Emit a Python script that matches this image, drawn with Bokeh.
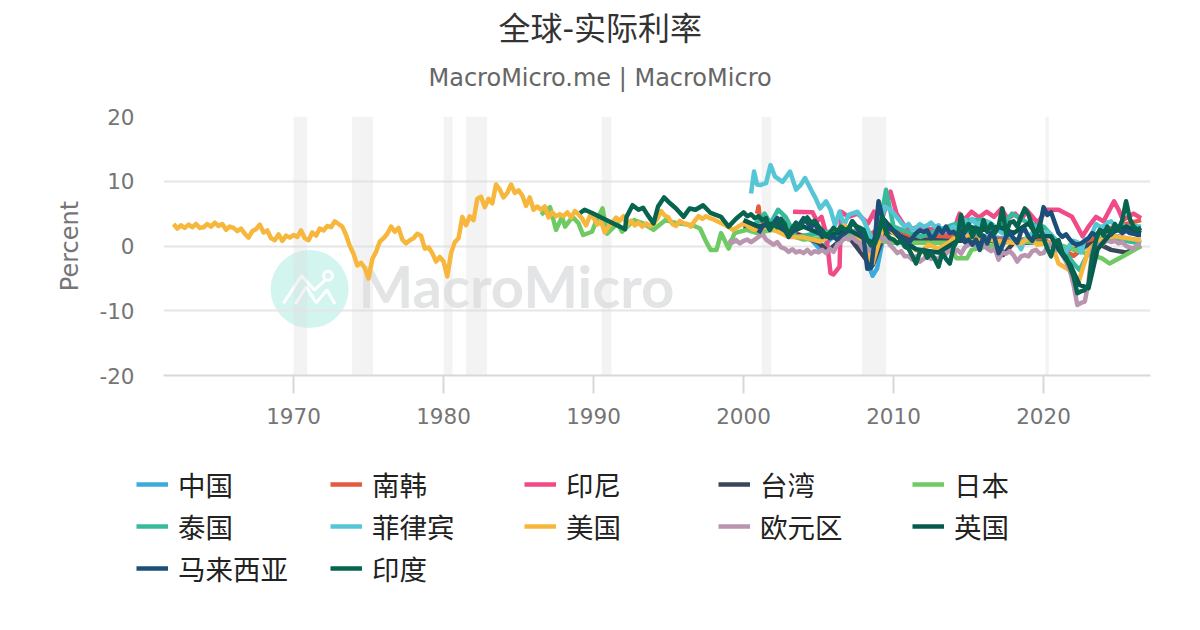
from bokeh.plotting import figure
from bokeh.layouts import column, row
from bokeh.models import Label, Legend, LegendItem, FixedTicker, Range1d, ColumnDataSource, Title
from bokeh.embed import file_html
from bokeh.resources import INLINE
from bokeh.core.properties import value

TITLE = "全球-实际利率"
SUBTITLE = "MacroMicro.me | MacroMicro"
X_TICKS = [1970, 1980, 1990, 2000, 2010, 2020]
Y_TICKS = [-20, -10, 0, 10, 20]
REC_START = [1970.0, 1973.9, 1980.0, 1981.5, 1990.55, 2001.2, 2007.9, 2020.13]
REC_END = [1970.9, 1975.3, 1980.6, 1982.9, 1991.2, 2001.85, 2009.5, 2020.35]


def quarters(start, n):
    return [start + 0.25 * i for i in range(n)]


us_early = [3.4,2.7,3.2,2.8, 3.3,2.9,3.4,2.8, 2.9,3.4,3.0,3.6, 3.1,3.4,2.5,3.0, 2.8,2.3,2.7,1.9, 1.3,2.3,2.6,3.3,
            2.1,2.4,1.2,0.9, 1.8,0.8,1.6,1.3, 1.7,1.4,2.4,1.2, 0.9,2.1,1.6,2.7, 2.4,3.1,2.9,3.8, 3.4,3.0,1.7,0.0,
            -1.2,-3.0,-2.6,-3.4, -5.0,-2.0,-0.9,0.7, 1.2,1.9,3.0,2.2, 2.8,1.0,0.4,0.9, 1.2,1.9,1.6,-0.4, -0.2,-1.1,-2.4,-1.7,
            -2.4,-4.7,-1.1,0.6, 1.2,4.5,3.2,4.6, 4.0,7.3,7.6,6.0, 7.3,6.6,9.5,8.7, 7.5,8.2,9.5,8.2, 8.6,7.8,6.2,7.5,
            5.6,6.1,5.6,6.1, 4.4,5.2,4.6,4.9, 4.6,5.2,4.4,5.4, 4.9,4.2,3.2,4.6, 4.4,3.3,3.8,2.1, 3.0,3.6,4.4,3.9,
            4.6,3.3,3.9,3.2, 3.6,3.0,3.5,3.1, 3.4,4.2,5.4,4.7, 4.4,3.4,3.1,3.9, 3.5,3.4,3.0,3.9, 4.6,4.2,4.6,4.3, 4.1]
us_late_x = [1998.8,1999.3,2000.0,2000.7,2001.6,2003.0,2003.9,2005.1,2005.8,2006.7,2007.3,2008.0,2008.6,2009.4,2010.0,2010.9,2011.8,2012.3,2013.0,2013.6,2014.5,2015.3,2016.3,2017.5,2018.5,2019.0,2019.6,2020.5,2021.0,2021.7,2022.3,2023.0,2023.7,2024.7,2026.5]
us_late_y = [3.2,2.5,3.5,2.5,3.0,1.4,1.4,0.7,1.6,3.2,2.2,0.4,-2.7,3.5,2.0,0.4,-1.1,0.2,-0.4,0.4,2.0,1.2,1.0,0.6,0.4,1.2,0.2,0.6,-2.7,-3.7,-5.8,-0.6,0.9,1.5,0.9]
us_x = quarters(1962.0, len(us_early)) + us_late_x
us_y = us_early + us_late_y

jp_x = [1986.5,1987.1,1987.5,1987.9,1988.1,1988.6,1989.0,1989.3,1989.9,1990.2,1990.6,1990.9,1991.6,1991.9,1992.7,1993.3,1994.0,1994.8,1995.6,1996.6,1997.1,1997.5,1997.8,1998.2,1998.5,1999.0,1999.4,2000.2,2000.9,2002.0,2004.0,2007.0,2010.0,2013.6,2014.2,2014.9,2015.2,2018.0,2021.0,2023.9,2024.4,2025.3,2026.5]
jp_y = [4.8,6.0,2.5,4.5,3.0,4.5,3.5,1.7,2.2,4.0,5.8,1.9,3.5,2.2,4.0,3.5,2.5,4.0,3.5,3.2,2.7,0.7,-0.6,-0.6,2.0,-0.4,2.0,2.5,2.0,2.5,1.0,1.5,0.5,0.5,-1.9,-1.9,-0.6,0.8,0.2,-1.9,-2.7,-1.6,0.0]

cn_x = [2000.0,2001.5,2003.0,2004.5,2005.1,2006.0,2007.0,2008.0,2008.6,2008.9,2009.5,2010.5,2012.0,2014.0,2016.0,2018.0,2020.0,2021.0,2022.0,2023.5,2025.0,2026.5]
cn_y = [3.0,3.2,2.0,1.0,-0.5,1.5,2.0,-1.0,-4.6,-3.5,3.5,2.0,1.5,2.5,1.5,1.0,0.5,-0.5,-1.5,1.0,1.5,0.5]

kr_x = [2000.9,2001.0,2001.1,2002.0,2003.0,2004.0,2005.0,2006.0,2008.0,2009.5,2011.0,2014.0,2017.0,2020.0,2022.0,2024.0,2026.5]
kr_y = [5.0,6.1,4.0,3.0,2.5,1.5,2.0,2.0,1.0,3.5,1.5,1.5,1.0,1.0,-1.5,2.5,4.0]

id_x = [2003.3,2004.6,2004.9,2005.2,2005.5,2005.8,2006.0,2006.4,2006.5,2007.0,2007.6,2008.3,2008.7,2009.0,2009.8,2010.2,2010.9,2011.8,2013.6,2014.1,2014.4,2014.7,2015.2,2015.7,2016.2,2016.7,2017.2,2017.6,2018.1,2018.5,2018.9,2019.6,2020.2,2021.0,2021.9,2022.6,2023.0,2023.5,2024.0,2024.7,2025.0,2025.3,2026.0,2026.5]
id_y = [5.3,5.2,3.8,4.5,2.0,-4.2,-4.4,-3.2,5.3,4.5,5.0,3.5,5.3,2.5,8.4,5.0,2.5,3.0,2.0,3.0,5.0,4.0,5.3,4.4,5.3,4.5,5.8,4.2,5.0,4.0,5.5,3.6,5.6,5.6,4.5,1.5,3.0,4.5,3.8,6.9,5.6,4.0,5.0,4.3]

tw_x = [2000.0,2002.0,2004.0,2005.0,2005.6,2006.3,2007.0,2008.3,2008.6,2009.5,2011.0,2014.0,2017.0,2017.3,2018.0,2020.0,2022.0,2023.5,2024.5,2025.5,2026.5]
tw_y = [3.0,2.5,1.5,0.5,-0.8,0.6,1.5,-2.5,-3.0,2.5,1.0,0.8,0.8,-1.4,0.5,0.5,-0.5,0.5,-0.6,-1.0,0.0]

th_x = [2000.5,2001.0,2001.4,2001.8,2002.3,2002.8,2003.5,2005.1,2006.8,2008.2,2008.9,2009.5,2010.0,2011.8,2013.6,2014.9,2016.0,2017.0,2017.9,2019.0,2020.0,2021.0,2022.0,2022.4,2023.0,2024.0,2026.5]
th_y = [3.0,3.8,5.0,3.5,5.6,4.5,1.4,2.0,2.5,2.0,0.5,8.7,3.0,1.4,3.0,4.0,4.0,2.5,5.0,3.5,3.0,0.5,-2.7,-3.7,-1.0,1.4,0.4]

ph_head_x = [2000.5,2000.7,2000.9,2001.1,2001.5,2001.8,2002.1,2002.6,2003.1,2003.5,2003.8,2004.1,2004.5,2004.8,2005.1,2005.5,2005.8,2006.1,2006.4,2006.7,2007.0,2007.6,2008.0,2008.5,2008.9,2009.4,2009.8,2010.2]
ph_head_y = [8.1,11.5,9.5,9.4,9.7,12.5,10.7,9.9,11.5,8.7,9.4,10.5,8.7,7.4,5.8,6.9,5.6,3.2,5.3,3.2,4.8,5.3,4.0,1.4,0.4,6.1,5.6,4.5]
ph_tail = [3.6,3.0, 3.4,2.5,2.8,3.4, 3.0,3.2,3.6,3.0, 3.2,2.0,2.4,2.6, 3.0,2.4,3.6,4.0, 3.2,4.2,3.4,3.5, 3.0,3.8,3.5,3.0,
           2.4,2.0,1.8,1.6, 1.0,0.5,-0.5,1.0, 1.5,2.0,3.0,2.5, 1.5,2.2,1.8,0.8, 0.5,-0.4,-1.0,0.2, 0.8,0.6,-1.0,1.0,
           1.2,2.0,3.4,3.0, 3.0,3.6,3.8,3.2, 2.8,3.4,2.6,3.0, 3.2,3.0,3.0]
ph_x = ph_head_x + quarters(2010.5, len(ph_tail))
ph_y = ph_head_y + ph_tail

ez_y = [0.9,0.5,0.9,0.4, 0.8,1.0,0.6,1.0, 1.4,1.9,1.0,0.6, 0.2,0.6,-0.2,-0.4, -0.9,-0.5,-1.0,-0.8, -1.1,-0.6,-1.2,-0.8,
        -1.0,-0.6,-1.1,-0.4, -0.9,0.2,0.6,1.4, 1.0,1.4,0.8,0.4, -0.6,-0.2,-0.8,1.2, 1.6,1.0,1.4,0.2, -0.4,-1.1,-0.8,-1.6,
        -1.6,-2.1,-1.6,-2.4, -2.0,-1.4,-2.0,-1.8, -2.1,-1.0,-1.2,-0.6, -1.1,-0.6,-1.2,-0.2, 0.2,0.4,0.0,0.2, 0.4,-0.4,-0.8,-0.4,
        -2.1,-1.0,-1.2,-0.8, -1.4,-2.4,-1.6,-1.4, -1.6,-0.8,-0.6,-1.2, -1.1,-0.2,0.4,-0.6, -0.6,-1.4,-2.4,-3.7,
        -6.0,-9.1,-8.8,-8.6, -5.5,-0.6,0.6,0.0, 0.4,0.9,0.6,0.8, 0.4,0.6,0.0,-0.2, -0.4,0.2,0.2]
ez_x = quarters(1999.0, len(ez_y))

uk_x = [2000.0,2001.0,2002.0,2003.0,2004.0,2005.5,2007.0,2008.6,2009.4,2010.5,2011.5,2013.0,2014.4,2015.0,2016.0,2017.0,2018.0,2019.0,2019.6,2020.5,2021.0,2021.8,2022.4,2023.0,2023.6,2024.5,2025.5,2026.5]
uk_y = [4.0,3.0,3.5,2.0,3.0,1.5,2.5,0.5,4.0,1.0,-0.5,-1.0,1.0,3.0,2.5,3.0,2.0,3.5,1.5,1.5,-0.5,-3.0,-6.0,-6.5,-0.5,2.0,3.0,2.0]

my_y = [2.0,3.0,3.5,2.5, 3.5,4.3,3.2,2.5, 1.4,2.2,2.8,3.4, 4.3,3.6,3.0,3.4, 2.4,1.4,1.8,1.2, 1.4,1.0,1.6,2.0, 2.4,3.8,3.0,2.2,
        1.4,-3.5,-3.4,1.0, 6.9,4.5,3.0,2.6, 2.4,2.0,1.4,0.8, 0.4,1.2,2.0,2.4, 2.2,2.4,1.2,1.6, 2.8,2.0,3.0,2.0, 2.2,1.6,2.4,0.6,
        1.0,0.2,1.0,-0.6, 1.6,0.4,2.0,1.2, -1.1,0.0,1.5,2.0, 1.2,0.5,2.2,2.6, 1.4,0.8,2.2,3.0, 6.0,4.8,5.2,3.6, 2.0,1.4,1.8,1.0,
        0.4,0.2,0.4,0.8, 1.2,2.0,1.6,2.4, 2.2,2.6,1.8,2.4, 2.5,2.0,2.4,2.0, 1.9,1.7,1.7]
my_x = quarters(2001.0, len(my_y))

in_head_x = [1989.1,1989.4,1989.9,1992.1,1992.2,1992.6,1993.0,1993.3,1993.6,1994.0,1994.3,1994.7,1995.1,1995.5,1996.0,1996.4,1996.8,1997.3,1997.8,1998.5,1999.0,1999.5]
in_head_y = [5.1,5.6,5.1,2.6,4.5,6.3,5.6,5.9,4.8,3.5,6.1,7.5,6.6,5.8,4.5,5.8,5.6,6.3,5.1,4.5,3.0,4.2]
in_tail = [5.2,4.6,4.9,4.3, 4.6,4.0,4.3,2.6, 3.4,2.9,4.2,3.4, 1.6,2.8,3.6,2.9, 3.8,4.4,3.6,3.9, 3.0,2.4,1.5,2.0, 2.8,2.3,3.0,2.5,
           2.7,3.8,3.1,2.8, 2.5,0.9,0.1,0.3, 1.8,4.6,2.0,1.2, 1.0,0.4,0.9,-0.1, -0.4,-1.5,-2.7,-1.0, -0.6,-1.8,-1.1,-2.0,
           -3.2,-1.0,-2.0,-2.7, -0.2,0.9,4.8,2.2, 3.4,1.4,2.8,1.6, 4.0,2.2,3.4,2.0, 3.0,5.8,2.0,3.6, 3.8,3.0,4.5,5.8,
           4.8,3.0,1.4,3.4, 1.2,-0.4,-1.6,0.6, 0.9,-1.0,-1.8,-3.2, -4.7,-7.3,-7.0,-6.8, -6.0,-1.6,1.0,2.5, 1.6,3.0,1.8,3.4,
           2.5,4.0,6.9,4.2, 3.0,2.5,2.8]
in_x = in_head_x + quarters(2000.0, len(in_tail))
in_y = in_head_y + in_tail

# name, x, y, colour — in drawing order
SERIES = [
    ("中国", cn_x, cn_y, "#3cabdb"), ("南韩", kr_x, kr_y, "#e45b3f"),
    ("印尼", id_x, id_y, "#f04a87"), ("台湾", tw_x, tw_y, "#3a4659"),
    ("日本", jp_x, jp_y, "#6fca63"), ("泰国", th_x, th_y, "#37bb9b"),
    ("菲律宾", ph_x, ph_y, "#55c6d6"), ("美国", us_x, us_y, "#f6b73c"),
    ("欧元区", ez_x, ez_y, "#b995b0"), ("英国", uk_x, uk_y, "#07584f"),
    ("马来西亚", my_x, my_y, "#1b4f78"), ("印度", in_x, in_y, "#07654f"),
]

CJK = "DejaVu Sans, Noto Sans CJK SC"
X0, X1 = 1961.33, 2027.13
p = figure(width=1190, height=439, output_backend="svg", toolbar_location=None,
           x_range=Range1d(X0, X1), y_range=Range1d(-20, 20),
           min_border_left=163, min_border_right=40, min_border_top=116, min_border_bottom=64,
           outline_line_color=None, background_fill_color="white", border_fill_color="white")

p.xgrid.visible = False
p.ygrid.ticker = FixedTicker(ticks=Y_TICKS)
p.ygrid.grid_line_color = "#e6e6e6"
p.ygrid.grid_line_width = 2

ax = p.xaxis[0]
ax.ticker = FixedTicker(ticks=X_TICKS)
ax.axis_line_color = "#d8d8d8"
ax.axis_line_width = 2
ax.major_tick_line_color = "#d8d8d8"
ax.major_tick_line_width = 2
ax.major_tick_out = 18
ax.major_tick_in = 0
ax.minor_tick_line_color = None
ax.major_label_text_font = "DejaVu Sans"
ax.major_label_text_font_size = "21.5px"
ax.major_label_text_color = "#757575"
ax.major_label_standoff = 14

ay = p.yaxis[0]
ay.ticker = FixedTicker(ticks=Y_TICKS)
ay.major_label_overrides = {-20: "-20", -10: "-10", 0: "0", 10: "10", 20: "20"}
ay.axis_line_color = None
ay.major_tick_line_color = None
ay.minor_tick_line_color = None
ay.major_label_text_font = "DejaVu Sans"
ay.major_label_text_font_size = "21.5px"
ay.major_label_text_color = "#757575"
ay.major_label_standoff = 23
ay.axis_label = "Percent"
ay.axis_label_text_font = "DejaVu Sans"
ay.axis_label_text_font_style = "normal"
ay.axis_label_text_font_size = "24px"
ay.axis_label_text_color = "#757575"
ay.axis_label_standoff = 12

# titles (stacked above the frame)
p.add_layout(Title(text=SUBTITLE, align="left", offset=265, text_font="DejaVu Sans", text_font_style="normal",
                   text_font_size="24px", text_color="#666666", standoff=50), "above")
p.add_layout(Title(text=TITLE, align="left", offset=335, text_font=CJK, text_font_style="normal",
                   text_font_size="32px", text_color="#333333", standoff=-22), "above")

# watermark
p.scatter([1971.07], [-6.66], size=78, marker="circle", fill_color="#d3f5ef", line_color=None, level="underlay")
p.line([1969.32, 1970.53, 1971.38, 1972.11], [-8.87, -4.59, -6.8, -5.26], line_color="white", line_width=3, level="underlay")
p.line([1970.12, 1970.85, 1971.5, 1972.23, 1972.76], [-8.97, -6.29, -8.76, -6.8, -8.97], line_color="white", line_width=3, level="underlay")
p.scatter([1972.3], [-4.59], size=9, marker="circle", fill_color="#d3f5ef", line_color="white", line_width=3, level="underlay")
p.add_layout(Label(x=195, y=90, x_units="screen", y_units="screen", text="MacroMicro", level="underlay",
                   text_font="Lato", text_font_style="bold", text_font_size="58px",
                   text_color="#e3e4e5", text_align="left", text_baseline="alphabetic"))

# recession bands
band = ColumnDataSource(dict(left=REC_START, right=REC_END, bottom=[-20] * len(REC_START), top=[20] * len(REC_START)))
p.quad(left="left", right="right", bottom="bottom", top="top", source=band,
       fill_color="#dcdcdc", fill_alpha=0.35, line_color=None)

for name, xs, ys, col in SERIES:
    p.line(xs, ys, line_color=col, line_width=4.5, line_join="round")

# legend panel: a full-bleed figure below the chart so that the keys may sit left of the plot frame
ORDER = ["中国", "南韩", "印尼", "台湾", "日本", "泰国", "菲律宾", "美国", "欧元区", "英国", "马来西亚", "印度"]
colour = {s[0]: s[3] for s in SERIES}
q = figure(width=1190, height=181, output_backend="svg", toolbar_location=None,
           x_range=Range1d(0, 1), y_range=Range1d(0, 1),
           min_border=0, outline_line_color=None, x_axis_location=None, y_axis_location=None)
q.grid.visible = False
items = [LegendItem(label=value(n), renderers=[q.line([-2, -1], [-2, -1], line_color=colour[n], line_width=4.5)]) for n in ORDER]
leg = Legend(items=items, location=(136, 32), ncols=5, orientation="horizontal",
             background_fill_alpha=0, border_line_color=None,
             padding=0, margin=0, spacing=2, glyph_width=32, glyph_height=32,
             label_height=32, label_width=150, label_standoff=10, label_text_font=CJK,
             label_text_font_size="27.5px", label_text_color="#222222")
q.add_layout(leg, "center")

page = column(p, row(q), spacing=0)
open("out.html", "w").write(file_html(page, INLINE))
